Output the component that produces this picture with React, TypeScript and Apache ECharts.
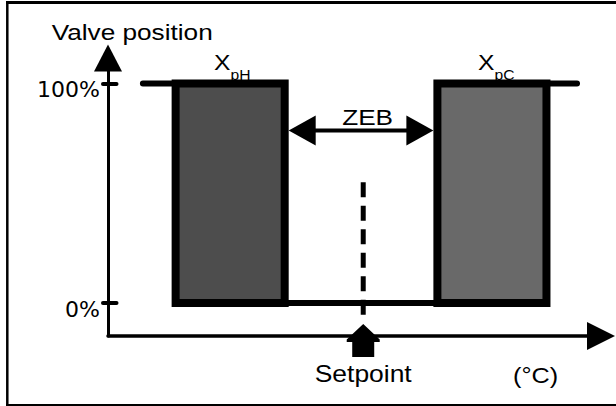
import React, { useEffect, useRef } from "react";
import * as echarts from "echarts";

// ---- data ----
const xExtent = [10.9, 33.5]; // temperature axis (°C), schematic
const yExtent = [-15, 111.6]; // valve position axis (%)
const yTickValues = [0, 100];
const yTickLabels = ["0%", "100%"];

const valveRange = [0, 100];
const valveCurve = [
  [12.5, 100],
  [19, 100],
  [19, 0],
  [26, 0],
  [26, 100],
  [32.4, 100],
];
const heatingBand = [14, 19]; // XpH
const coolingBand = [26, 31]; // XpC
const setpoint = 22.6;
const setpointLine = [
  [setpoint, 55],
  [setpoint, -5.5],
];
const zebSpan = [19, 26];
const zebLevel = 78.6;

const texts = ["Valve position", "X{s|pH}", "X{s|pC}", "ZEB", "Setpoint", "(°C)"];
const textAnchors = [
  [10.9, 111.6],
  [16.6, 100],
  [28.7, 100],
  [22.8, 78.6],
  [22.6, -15],
  [30.5, -15],
];

// ---- styles (kept apart from the data) ----
const bandFills = ["#4d4d4d", "#696969"];
const FONT = "Liberation Sans, Arial, Helvetica, sans-serif";
const textStyles = [
  { dx: -56.3, dy: -25.7, size: 22, sx: 1.19, align: "left" },
  { dx: 0, dy: -21, size: 22, sx: 1.12, align: "center" },
  { dx: 0, dy: -21, size: 22, sx: 1.12, align: "center" },
  { dx: 0, dy: -13.2, size: 22, sx: 1.19, align: "center" },
  { dx: 0, dy: 38.3, size: 23, sx: 1.15, align: "center" },
  { dx: 0, dy: 39.2, size: 22, sx: 1.145, align: "center" },
];

const setpointArrowPath =
  "path://M16.5 0 L33 15.5 L33 18 L27.5 18 L27.5 33 L5.5 33 L5.5 18 L0 18 L0 15.5 Z";

const tickLine = { color: "#000", width: 4, cap: "round" };

const option: any = {
  animation: false,
  backgroundColor: "#fff",
  grid: { left: 108, right: 15, top: 58, bottom: 70 },
  xAxis: {
    type: "value",
    min: xExtent[0],
    max: xExtent[1],
    splitLine: { show: false },
    axisTick: { show: false },
    axisLabel: { show: false },
    axisLine: {
      show: true,
      onZero: false,
      symbol: ["none", "triangle"],
      symbolSize: [28, 28],
      lineStyle: { color: "#000", width: 3.5 },
    },
  },
  yAxis: [
    {
      type: "value",
      min: yExtent[0],
      max: yExtent[1],
      position: "left",
      splitLine: { show: false },
      axisLine: {
        show: true,
        onZero: false,
        symbol: ["none", "triangle"],
        symbolSize: [28, 27],
        lineStyle: { color: "#000", width: 3 },
      },
      axisTick: { show: true, customValues: yTickValues, length: 5, lineStyle: tickLine },
      axisLabel: {
        show: true,
        customValues: yTickValues,
        formatter: (v: number) => "{t|" + (yTickLabels[yTickValues.indexOf(v)] ?? "") + "}",
        margin: 8,
        fontSize: 22,
        fontFamily: "DejaVu Sans",
        color: "#000",
        rich: {
          t: { fontSize: 22, fontFamily: "DejaVu Sans", color: "#000", padding: [12, 0, 0, 0] },
        },
      },
    },
    {
      type: "value",
      min: yExtent[0],
      max: yExtent[1],
      position: "left",
      splitLine: { show: false },
      axisLine: { show: false, onZero: false },
      axisTick: { show: true, inside: true, customValues: yTickValues, length: 8.5, lineStyle: tickLine },
      axisLabel: { show: false },
    },
  ],
  graphic: [
    { type: "line", shape: { x1: 6, y1: 2.5, x2: 616, y2: 2.5 }, style: { stroke: "#000", lineWidth: 3 } },
    { type: "line", shape: { x1: 7.3, y1: 1, x2: 7.3, y2: 406 }, style: { stroke: "#000", lineWidth: 2.5 } },
    { type: "line", shape: { x1: 6, y1: 405, x2: 616, y2: 405 }, style: { stroke: "#000", lineWidth: 2 } },
  ],
  series: [
    {
      name: "labels",
      type: "custom",
      z: 1,
      silent: true,
      data: textAnchors,
      renderItem: (params: any, api: any) => {
        const i = params.dataIndex;
        const p = api.coord([api.value(0), api.value(1)]);
        const st = textStyles[i];
        return {
          type: "text",
          x: p[0] + st.dx,
          y: p[1] + st.dy,
          scaleX: st.sx,
          style: {
            text: texts[i],
            fill: "#000",
            fontSize: st.size,
            fontFamily: FONT,
            align: st.align,
            verticalAlign: "middle",
            rich: {
              s: { fontSize: 14, fontFamily: FONT, fill: "#000", padding: [25, 0, 0, 0] },
            },
          },
        };
      },
    },
    {
      name: "proportional bands",
      type: "custom",
      z: 3,
      data: [heatingBand, coolingBand],
      renderItem: (params: any, api: any) => {
        const a = api.coord([api.value(0), valveRange[1]]);
        const b = api.coord([api.value(1), valveRange[0]]);
        return {
          type: "rect",
          shape: { x: a[0], y: a[1], width: b[0] - a[0], height: b[1] - a[1] },
          style: { fill: bandFills[params.dataIndex], stroke: "#000", lineWidth: 8 },
        };
      },
    },
    {
      name: "valve position",
      type: "line",
      z: 4,
      data: valveCurve,
      symbol: "none",
      lineStyle: { color: "#000", width: 6, cap: "round", join: "miter" },
    },
    {
      name: "setpoint line",
      type: "line",
      z: 4,
      data: setpointLine,
      symbol: "none",
      lineStyle: { color: "#000", width: 5, type: [15, 8.5], cap: "butt" },
    },
    {
      name: "ZEB",
      type: "custom",
      z: 5,
      data: [[zebSpan[0], zebSpan[1], zebLevel]],
      renderItem: (params: any, api: any) => {
        const a = api.coord([api.value(0), api.value(2)]);
        const b = api.coord([api.value(1), api.value(2)]);
        const x0 = a[0] + 4;
        const x1 = b[0] - 4;
        const y = a[1];
        const L = 27;
        const H = 15;
        return {
          type: "group",
          children: [
            { type: "line", shape: { x1: x0 + L - 2, y1: y, x2: x1 - L + 2, y2: y }, style: { stroke: "#000", lineWidth: 4 } },
            { type: "polygon", shape: { points: [[x0, y], [x0 + L, y - H], [x0 + L, y + H]] }, style: { fill: "#000" } },
            { type: "polygon", shape: { points: [[x1, y], [x1 - L, y - H], [x1 - L, y + H]] }, style: { fill: "#000" } },
          ],
        };
      },
    },
    {
      name: "setpoint marker",
      type: "scatter",
      z: 5,
      clip: false,
      data: [[setpoint, yExtent[0]]],
      symbol: setpointArrowPath,
      symbolSize: [33, 33],
      symbolOffset: [0, 4.5],
      itemStyle: { color: "#000", opacity: 1 },
    },
  ],
};

export default function App() {
  const ref = useRef<HTMLDivElement>(null);
  useEffect(() => {
    const chart = echarts.init(ref.current!, null, { renderer: "svg" });
    chart.setOption(option);
    return () => chart.dispose();
  }, []);
  return (
    <div
      ref={ref}
      style={{ position: "absolute", left: 0, top: 0, width: 616, height: 406, background: "#fff" }}
    />
  );
}
